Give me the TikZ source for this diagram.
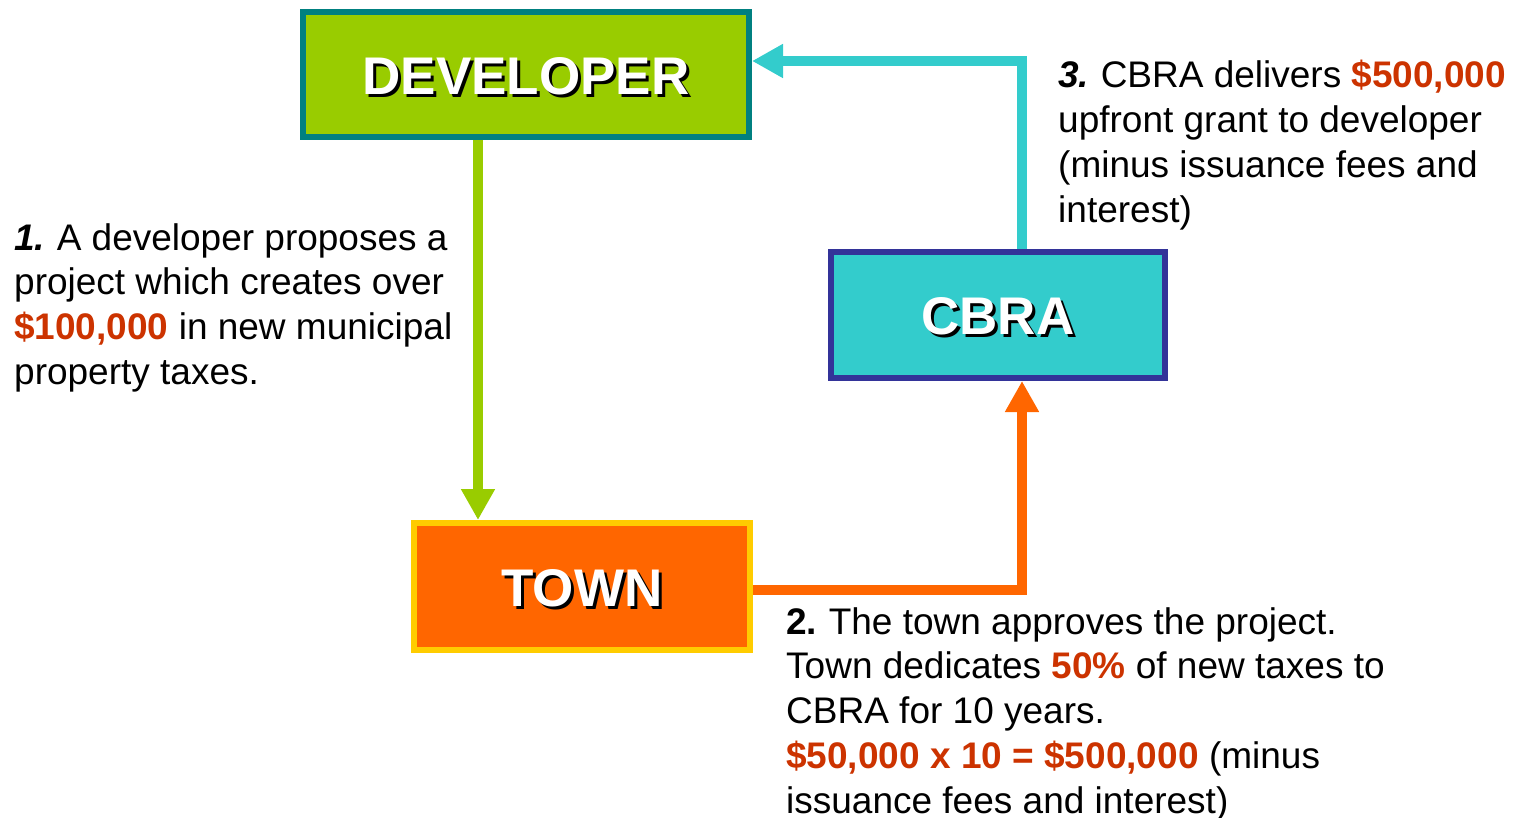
\documentclass[tikz,border=0pt]{standalone}
\usepackage{fontspec}
\setmainfont{Liberation Sans}
\usepackage{xcolor}
\usepackage{tikz}
\usetikzlibrary{arrows.meta}
\usetikzlibrary{positioning}
\definecolor{devfill}{HTML}{99CC00}
\definecolor{devline}{HTML}{008080}
\definecolor{cbrafill}{HTML}{33CCCC}
\definecolor{cbraline}{HTML}{333399}
\definecolor{townfill}{HTML}{FF6600}
\definecolor{townline}{HTML}{FFCC00}
\definecolor{money}{HTML}{CC3300}
\newcommand{\shadowed}[1]{\raisebox{-3pt}[\height][\depth]{\rlap{\kern3pt\raisebox{-3pt}{\color{black}#1}}#1}}
\newcommand{\amount}[1]{\textcolor{money}{\textbf{#1}}}

\begin{document}
\begin{tikzpicture}[
x=1pt,y=-1pt,
BoxTitle/.style={line width=6pt,inner sep=0pt,text=white,
  font=\fontsize{53pt}{60pt}\selectfont\bfseries},
Flow/.style={line width=10pt,-{Triangle[length=31pt,width=32pt]}},
Notes/.style={anchor=north west,inner sep=0pt,align=left,
  font=\fontsize{37pt}{44.8pt}\selectfont}
]
\useasboundingbox (0,0) rectangle (1520,818);

% the three boxes
\node[BoxTitle,draw=devline,fill=devfill,minimum width=446pt,minimum height=125pt]
  (dev) at (526,74.5) {\shadowed{DEVELOPER}};
\node[BoxTitle,draw=cbraline,fill=cbrafill,minimum width=334pt,minimum height=126pt]
  (cbra) at (998,315) {\shadowed{CBRA}};
\node[BoxTitle,draw=townline,fill=townfill,minimum width=336pt,minimum height=127pt]
  (town) at (582,586.5) {\shadowed{TOWN}};

% where the connectors run
\coordinate (gx) at (478,0);
\coordinate (cx) at (1022,61);
\coordinate (oy) at (0,590);

\draw[Flow,devfill] (dev.south -| gx) -- (town.north -| gx);
\draw[Flow,townfill] (town.east |- oy) -| (cbra.south -| cx);
\draw[Flow,cbrafill] (cbra.north -| cx) |- (dev.east |- cx);

% the steps
\node[Notes] (stepone) at (14,223)
  {\textbf{\textit{1.}}\kern-2pt{} A developer proposes a\\
   project which creates over\\
   \amount{\$100,000} in new municipal\\
   property taxes.};
\node[Notes] (steptwo) at (786,607)
  {\textbf{2.}\kern-2pt{} The town approves the project.\\
   Town dedicates \amount{50\%} of new taxes to\\
   CBRA for 10 years.\\
   \amount{\$50,000 x 10 = \$500,000} (minus\\
   issuance fees and interest)};
\node[Notes] (stepthree) at (1058,60)
  {\textbf{\textit{3.}}\kern-2pt{} CBRA delivers \amount{\$500,000}\\
   upfront grant to developer\\
   (minus issuance fees and\\
   interest)};

\end{tikzpicture}
\end{document}
